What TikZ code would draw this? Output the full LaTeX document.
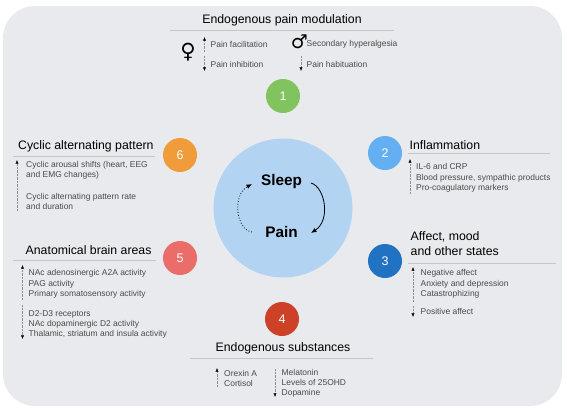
\documentclass[tikz,border=0pt]{standalone}
\usepackage{fontspec}
\setmainfont{Liberation Sans}
\newfontfamily\symfont{DejaVu Sans}
\usetikzlibrary{arrows.meta}
\definecolor{panel}{HTML}{E9EAEE}
\definecolor{rulec}{HTML}{C4C6CB}
\definecolor{smalltxt}{HTML}{4A4A4A}
\definecolor{arrowc}{HTML}{8F8F8F}
\definecolor{cA}{HTML}{80C35F}
\definecolor{cB}{HTML}{64AEF2}
\definecolor{cC}{HTML}{2272C4}
\definecolor{cD}{HTML}{CC4128}
\definecolor{cE}{HTML}{EB6D69}
\definecolor{cF}{HTML}{F09C3B}
\definecolor{hub}{HTML}{B2D3F2}
\tikzset{
  x=1pt,y=-1pt,
  num/.style={circle,minimum size=34pt,inner sep=0pt,text=white,font=\fontsize{12.5}{14}\selectfont},
  head/.style={inner sep=0pt,text=black,font=\fontsize{12.3}{14.5}\selectfont},
  small/.style={inner sep=0pt,anchor=west,text=smalltxt,align=left,font=\fontsize{8.45}{10.3}\selectfont},
  rulel/.style={draw=rulec,line width=0.7pt},
  updown/.style={draw=arrowc,line width=0.5pt,dash pattern=on 0.8pt off 0.6pt,-{Latex[black,length=3.6pt,width=3.2pt]}},
  hubt/.style={inner sep=0pt,font=\bfseries\fontsize{15.3}{17}\selectfont},
}
\begin{document}
\begin{tikzpicture}
\useasboundingbox (0,0) rectangle (567,415);
\fill[white] (0,0) rectangle (567,415);
\fill[panel,rounded corners=32pt] (3,6) rectangle (562,406);
% hub
\node[circle,fill=hub,minimum size=139pt,inner sep=0pt] (hubc) at (283,208) {};
\node[hubt] (sl) at (281.5,182) {Sleep};
\node[hubt] (pa) at (281.5,232.5) {Pain};
\coordinate (s1) at (311,183);
\coordinate (p1) at (311,233);
\coordinate (s2) at (252,184);
\coordinate (p2) at (252,232);
\draw[line width=0.8pt,-{Latex[length=5.5pt,width=4.6pt]}] (s1) .. controls (325,187) and (331,220) .. (p1);
\draw[line width=0.8pt,dotted,-{Latex[length=5.5pt,width=4.6pt]}] (p2) .. controls (236,230) and (232,195) .. (s2);
% numbered circles
\node[num,fill=cA] (n1) at (283,96) {1};
\node[num,fill=cB] (n2) at (385,153) {2};
\node[num,fill=cC] (n3) at (385,261) {3};
\node[num,fill=cD] (n4) at (282,319) {4};
\node[num,fill=cE] (n5) at (180,258) {5};
\node[num,fill=cF] (n6) at (180,155) {6};
% panel 1
\node[head] (t1) at (282,20) {Endogenous pain modulation};
\coordinate (r1a) at (170,30); \coordinate (r1b) at (394,30);
\draw[rulel] (r1a) -- (r1b);
\node[inner sep=0pt,font=\symfont\fontsize{21}{21}\selectfont] (fem) at (188,52) {♀};
\node[inner sep=0pt,font=\symfont\fontsize{19}{19}\selectfont] (mal) at (299.5,42) {♂};
\node[small] (a1) at (210.5,44.5) {Pain facilitation};
\node[small] (a2) at (210.5,64.5) {Pain inhibition};
\node[small] (a3) at (306.5,44.5) {Secondary hyperalgesia};
\node[small] (a4) at (306.5,64.5) {Pain habituation};
\coordinate (u1a) at (204.5,52); \coordinate (u1b) at (204.5,37);
\coordinate (u2a) at (204.5,56); \coordinate (u2b) at (204.5,71);
\coordinate (u3a) at (301,56); \coordinate (u3b) at (301,71);
\draw[updown] (u1a) -- (u1b);
\draw[updown] (u2a) -- (u2b);
\draw[updown] (u3a) -- (u3b);
% panel 2
\node[head,anchor=west] (t2) at (409.5,145.5) {Inflammation};
\coordinate (r2a) at (408,153.5); \coordinate (r2b) at (550,153.5);
\draw[rulel] (r2a) -- (r2b);
\node[small] (b1) at (416,178) {IL-6 and CRP\\Blood pressure, sympathic products\\Pro-coagulatory markers};
\coordinate (u4a) at (410,194); \coordinate (u4b) at (410,159);
\draw[updown] (u4a) -- (u4b);
% panel 3
\node[head,anchor=west,align=left,font=\fontsize{12.3}{15}\selectfont] (t3) at (410.5,243.5) {Affect, mood\\and other states};
\coordinate (r3a) at (408,263); \coordinate (r3b) at (556,263);
\draw[rulel] (r3a) -- (r3b);
\node[small] (c1) at (420.5,284) {Negative affect\\Anxiety and depression\\Catastrophizing};
\node[small] (c2) at (420.5,311.5) {Positive affect};
\coordinate (u5a) at (413,302); \coordinate (u5b) at (413,267);
\coordinate (u6a) at (413,306); \coordinate (u6b) at (413,317);
\draw[updown] (u5a) -- (u5b);
\draw[updown] (u6a) -- (u6b);
% panel 4
\node[head] (t4) at (283,348.5) {Endogenous substances};
\coordinate (r4a) at (190,358.5); \coordinate (r4b) at (373,358.5);
\draw[rulel] (r4a) -- (r4b);
\node[small] (d1) at (224,378.5) {Orexin A\\Cortisol};
\node[small] (d2) at (281.5,383.5) {Melatonin\\Levels of 25OHD\\Dopamine};
\coordinate (u7a) at (217,387); \coordinate (u7b) at (217,368);
\coordinate (u8a) at (275,369); \coordinate (u8b) at (275,397);
\draw[updown] (u7a) -- (u7b);
\draw[updown] (u8a) -- (u8b);
% panel 5
\node[head,anchor=west] (t5) at (25.5,250) {Anatomical brain areas};
\coordinate (r5a) at (13,260.5); \coordinate (r5b) at (156,260.5);
\draw[rulel] (r5a) -- (r5b);
\node[small] (e1) at (28.5,284) {NAc adenosinergic A2A activity\\PAG activity\\Primary somatosensory activity};
\node[small] (e2) at (28.5,324.5) {D2-D3 receptors\\NAc dopaminergic D2 activity\\Thalamic, striatum and insula activity};
\coordinate (u9a) at (22.5,300); \coordinate (u9b) at (22.5,265);
\coordinate (u10a) at (22.5,305); \coordinate (u10b) at (22.5,339);
\draw[updown] (u9a) -- (u9b);
\draw[updown] (u10a) -- (u10b);
% panel 6
\node[head,anchor=west] (t6) at (18,146) {Cyclic alternating pattern};
\coordinate (r6a) at (13,156); \coordinate (r6b) at (155,156);
\draw[rulel] (r6a) -- (r6b);
\node[small] (f1) at (26,170.5) {Cyclic arousal shifts (heart, EEG\\and EMG changes)};
\node[small] (f2) at (26,201.5) {Cyclic alternating pattern rate\\and duration};
\coordinate (u11a) at (17,211); \coordinate (u11b) at (17,160);
\draw[updown] (u11a) -- (u11b);
\end{tikzpicture}
\end{document}
